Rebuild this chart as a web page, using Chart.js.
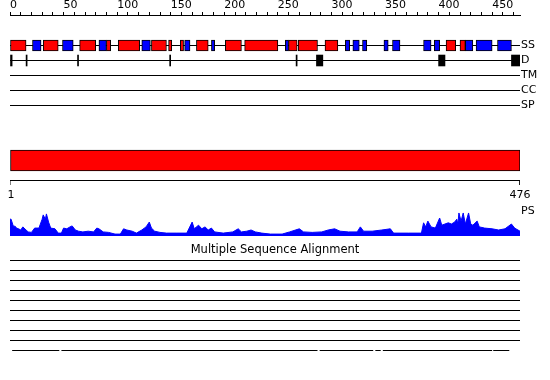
<!DOCTYPE html>
<html>
<head>
<meta charset="utf-8">
<script src="https://cdn.jsdelivr.net/npm/chart.js@4.4.0/dist/chart.umd.min.js"></script>
<style>
	html, body { margin: 0; padding: 0; background: #fff; }
	canvas { display: block; }
</style>
</head>
<body>
<canvas id="seqChart" width="550" height="380"></canvas>
<script>
var seqLength = 476;
var trackNames = ["SS", "D", "TM", "CC", "SP"];
var rulerStep = 10;
var rulerLabelStep = 50;

// secondary structure, residue ranges
var helix = [[1,15],[32,45],[66,80],[91,94],[102,121],[133,146],[149,151],[160,162],[175,185],
	[202,216],[220,250],[261,268],[270,287],[295,306],[408,416],[421,425]];
var strand = [[22,29],[50,59],[84,90],[124,131],[164,168],[189,191],[258,260],[314,317],[321,326],
	[330,333],[350,353],[358,364],[387,393],[397,401],[426,432],[436,450],[456,468]];
var disorder = [[1,2],[16,16],[64,64],[150,150],[268,268],[287,292],[401,406],[469,476]];
var domains = [[1,476]];

// PS profile (residue, value)
var psResidues = [0,1,3,5,6,8,10,12,15,17,20,23,27,30,31,33,34,36,38,42,
	45,48,50,53,56,58,61,64,68,73,78,81,83,87,92,98,103,106,109,114,
	118,123,127,130,132,135,140,146,155,165,170,172,174,176,179,182,185,188,191,199,
	208,213,216,221,225,229,235,243,254,261,270,274,282,291,297,303,308,316,324,327,
	330,338,347,355,358,372,384,386,388,390,393,397,401,403,406,409,412,415,417,418,
	419,421,423,425,428,430,432,436,438,443,450,456,462,468,471,476];
var psValues = [0.70,0.70,0.42,0.40,0.33,0.30,0.25,0.38,0.25,0.17,0.15,0.33,0.33,0.70,0.88,0.70,0.92,0.58,0.33,0.30,
	0.12,0.12,0.33,0.30,0.38,0.42,0.25,0.20,0.17,0.20,0.17,0.33,0.30,0.17,0.15,0.08,0.08,0.30,0.25,0.20,
	0.12,0.25,0.38,0.58,0.33,0.20,0.15,0.12,0.12,0.12,0.58,0.30,0.38,0.45,0.30,0.38,0.25,0.33,0.17,0.12,
	0.17,0.30,0.17,0.20,0.25,0.17,0.12,0.08,0.08,0.17,0.30,0.17,0.15,0.17,0.25,0.30,0.20,0.17,0.17,0.38,
	0.20,0.20,0.25,0.30,0.12,0.12,0.12,0.55,0.38,0.62,0.38,0.33,0.75,0.45,0.50,0.55,0.50,0.58,0.70,0.50,
	0.96,0.62,0.96,0.50,0.96,0.50,0.45,0.62,0.38,0.33,0.30,0.25,0.30,0.50,0.33,0.20];

// alignment coverage, one list of ranges per sequence
var msaRows = [
	[[1,476]],[[1,476]],[[1,476]],[[1,476]],[[1,476]],
	[[1,476]],[[1,476]],[[1,476]],[[1,476]],
	[[3,46],[49,287],[290,339],[342,346],[349,450],[452,466]]
];

// layout (pixel rows, y scale maps 1:1 to pixels)
var ROW = { SS: 45.5, D: 60.5, TM: 75.5, CC: 90.5, SP: 105.5, DOM: 160.5, RULER: 180.5, PSLABEL: 211, MSA: 260.5 };
var AREA_TOP = 15, AREA_BOTTOM = 380, PS_BASE = 236, PS_UNIT = 24;
var FONT = { family: "DejaVu Sans", size: 11 };

function ranges(list, row) {
	return list.map(function (r) { return { x: [r[0] - 1, r[1]], y: row }; });
}

function segLine(list, row) {
	var pts = [];
	list.forEach(function (r) {
		pts.push({ x: r[0] - 1, y: row });
		pts.push({ x: r[1], y: row });
		pts.push({ x: r[1], y: null });
	});
	return pts;
}

function lineSet(data, extra) {
	var ds = { type: 'line', indexAxis: 'x', data: data, borderColor: '#000', borderWidth: 1,
		pointRadius: 0, tension: 0, fill: false, order: 2, yAxisID: 'y' };
	for (var k in extra) ds[k] = extra[k];
	return ds;
}

function barSet(data, color, thick, extra) {
	var ds = { type: 'bar', indexAxis: 'y', stack: 'all', data: data, backgroundColor: color,
		borderColor: '#000', borderWidth: 1, borderSkipped: false, barThickness: thick, order: 0, yAxisID: 'y' };
	for (var k in extra) ds[k] = extra[k];
	return ds;
}

function noPad(s) {
	s.paddingTop = 0; s.paddingBottom = 0; s.paddingLeft = 0; s.paddingRight = 0;
}

var datasets = [];
var trackRows = [ROW.SS, ROW.D, ROW.TM, ROW.CC, ROW.SP];
trackRows.forEach(function (r) { datasets.push(lineSet(segLine([[1, seqLength]], r))); });

datasets.push(barSet(ranges(helix, ROW.SS), '#ff0000', 11));
datasets.push(barSet(ranges(strand, ROW.SS), '#0000ff', 11));
datasets.push(barSet(ranges(disorder, ROW.D), '#000000', 11, { borderWidth: 0, inflateAmount: 0.3 }));
datasets.push(barSet(ranges(domains, ROW.DOM), '#ff0000', 21));

datasets.push(lineSet([{ x: 0, y: ROW.RULER + 4.5 }, { x: 0, y: ROW.RULER }, { x: seqLength, y: ROW.RULER }, { x: seqLength, y: ROW.RULER + 4.5 }]));

datasets.push(lineSet(psValues.map(function (v, i) { return { x: psResidues[i], y: v }; }), {
	yAxisID: 'yPS', borderColor: '#0000ff', backgroundColor: '#0000ff', fill: 'origin'
}));

msaRows.forEach(function (segs, i) {
	datasets.push(lineSet(segLine(segs, ROW.MSA + i * 10)));
});

var labelRows = trackRows.concat([ROW.PSLABEL]);
var labelNames = trackNames.concat(["PS"]);

var textPlugin = {
	id: 'seqTexts',
	afterDraw: function (chart) {
		var ctx = chart.ctx, x = chart.scales.x, y = chart.scales.y;
		ctx.save();
		ctx.fillStyle = '#000';
		ctx.font = '11px "DejaVu Sans"';
		ctx.textAlign = 'center';
		ctx.textBaseline = 'middle';
		ctx.fillText('1', x.getPixelForValue(1), y.getPixelForValue(195));
		ctx.fillText(String(seqLength), x.getPixelForValue(seqLength), y.getPixelForValue(195));
		ctx.font = '11.5px "DejaVu Sans"';
		ctx.fillText('Multiple Sequence Alignment', chart.width / 2, y.getPixelForValue(250.5));
		ctx.restore();
	}
};

var myChart = new Chart(document.getElementById('seqChart'), {
	type: 'bar',
	data: { datasets: datasets },
	plugins: [textPlugin],
	options: {
		responsive: false,
		devicePixelRatio: 1,
		animation: false,
		events: [],
		layout: { padding: { left: 10, right: 0, top: 0, bottom: 0 } },
		plugins: { legend: { display: false }, tooltip: { enabled: false } },
		scales: {
			x: {
				type: 'linear', position: 'top', min: 0, max: seqLength, offset: false, stacked: false,
				afterFit: function (s) { s.height = AREA_TOP; noPad(s); },
				ticks: {
					stepSize: rulerStep, includeBounds: false, autoSkip: false, maxRotation: 0,
					align: 'start', padding: 0, color: '#000', font: FONT,
					callback: function (v) { return v % rulerLabelStep === 0 ? String(v) : ''; }
				},
				grid: { drawOnChartArea: false, drawTicks: true, tickLength: 3, color: '#000', offset: false },
				border: { display: true, color: '#000', width: 1 }
			},
			y: {
				type: 'linear', position: 'right', reverse: true, min: AREA_TOP, max: AREA_BOTTOM, offset: false,
				afterFit: function (s) { s.width = 30; noPad(s); },
				afterBuildTicks: function (s) { s.ticks = labelRows.map(function (v) { return { value: v }; }); },
				ticks: {
					autoSkip: false, padding: 1, color: '#000', font: FONT,
					callback: function (v, i) { return labelNames[i]; }
				},
				grid: { display: false, drawTicks: false },
				border: { display: false }
			},
			yPS: {
				type: 'linear', display: false,
				min: -(AREA_BOTTOM - PS_BASE) / PS_UNIT,
				max: (PS_BASE - AREA_TOP) / PS_UNIT
			}
		}
	}
});
</script>
</body>
</html>
